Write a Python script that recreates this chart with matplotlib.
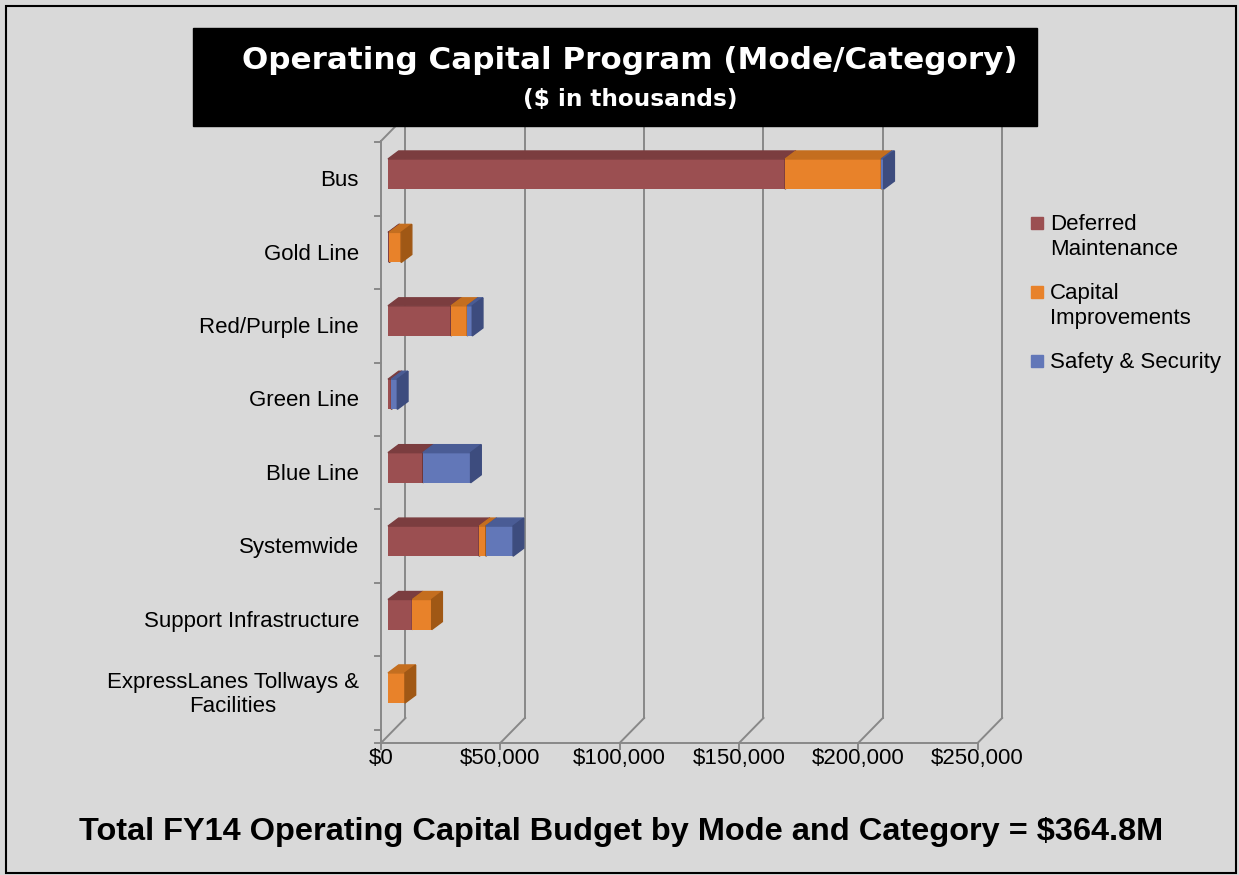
import numpy as np
import matplotlib.pyplot as plt
from matplotlib.patches import Polygon, Rectangle

# data ($ in thousands)
categories = ["Bus", "Gold Line", "Red/Purple Line", "Green Line", "Blue Line",
              "Systemwide", "Support Infrastructure", "ExpressLanes Tollways &\nFacilities"]
deferred = [166400, 500, 26400, 1400, 14600, 38200, 10200, 0]
capital = [40300, 5000, 6800, 0, 0, 2800, 8100, 7100]
safety = [1000, 0, 2100, 2500, 20000, 11400, 0, 0]
series_names = ["Deferred\nMaintenance", "Capital\nImprovements", "Safety & Security"]
xticks = [0, 50000, 100000, 150000, 200000, 250000]

title = "Operating Capital Program (Mode/Category)"
subtitle = "($ in thousands)"
footer = "Total FY14 Operating Capital Budget by Mode and Category = $364.8M"

# colours: front face, top face, side face
front_c = ["#9B4F51", "#E8822A", "#6277B8"]
top_c = ["#7B3D3F", "#C46E1F", "#4A5C95"]
side_c = ["#6A3436", "#A05815", "#3D4C7E"]
bg = "#D9D9D9"
grid_c = "#888888"

W, H = 1239, 875
fig = plt.figure(figsize=(W / 100, H / 100), dpi=100, facecolor=bg)
ax = fig.add_axes([330 / W, 1 - 770 / H, 700 / W, 660 / H])
ax.set_xlim(-24300, 269000)
ax.set_ylim(-1.117, 7.872)
ax.axis("off")

PX = 419.0          # x units per pixel
PY = 1 / 73.43      # y units per pixel

# pseudo 3d frame
fx0 = -7 * PX            # front plane offset
bx0 = 17.5 * PX          # back wall offset
floor_front = -55 * PY
floor_back = -30 * PY
top_front = 547 * PY
top_back = top_front + 25 * PY

for v in xticks:
    ax.plot([v + bx0] * 2, [floor_back, top_back], color=grid_c, lw=1.4, zorder=1)
    ax.plot([v + fx0, v + bx0], [floor_front, floor_back], color=grid_c, lw=1.4, zorder=1)
    ax.plot([v + fx0] * 2, [floor_front, floor_front - 6 * PY], color=grid_c, lw=1.4, zorder=1)
    ax.text(v + fx0, floor_front - 16 * PY, f"${v:,.0f}", ha="center", va="center",
            fontsize=16, family="Liberation Sans")
ax.plot([fx0 - 6 * PX, xticks[-1] + fx0], [floor_front] * 2, color=grid_c, lw=1.4, zorder=1)
ax.plot([fx0] * 2, [floor_front, top_front], color=grid_c, lw=1.4, zorder=1)
ax.plot([fx0, bx0], [top_front, top_back], color=grid_c, lw=1.4, zorder=1)

n = len(categories)
ypos = np.arange(n)[::-1]
for k in range(-1, n):
    yk = k + 0.5 - 5 * PY
    ax.plot([fx0 - 6 * PX, fx0], [yk, yk], color=grid_c, lw=1.4, zorder=1)

# bars
h = 0.41
ddx = 10.7 * PX
ddy = 8 * PY
series = [deferred, capital, safety]
z = 3
for i, y in enumerate(ypos):
    left = 0
    for s, vals in enumerate(series):
        w = vals[i]
        if w <= 0:
            continue
        ax.barh(y, w, left=left, height=h, color=front_c[s], zorder=z)
        top = [(left, y + h / 2), (left + w, y + h / 2),
               (left + w + ddx, y + h / 2 + ddy), (left + ddx, y + h / 2 + ddy)]
        ax.add_patch(Polygon(top, closed=True, color=top_c[s], zorder=z))
        side = [(left + w, y - h / 2), (left + w + ddx, y - h / 2 + ddy),
                (left + w + ddx, y + h / 2 + ddy), (left + w, y + h / 2)]
        ax.add_patch(Polygon(side, closed=True, color=side_c[s], zorder=z))
        left += w
        z += 1
    ax.text(-29 * PX, y - 0.09, categories[i], ha="right", va="center",
            multialignment="center", fontsize=16, family="Liberation Sans",
            linespacing=1.2)

# legend
for s, name in enumerate(series_names):
    ly = 223 + s * 69
    fig.patches.append(Rectangle((1031 / W, 1 - (ly + 6) / H), 12 / W, 12 / H,
                                 transform=fig.transFigure, color=front_c[s]))
    fig.text(1050 / W, 1 - (ly - 9) / H, name, ha="left", va="top", fontsize=16,
             family="Liberation Sans", linespacing=1.25)

# title box
fig.patches.append(Rectangle((193 / W, 1 - 126 / H), 844 / W, 98 / H,
                             transform=fig.transFigure, color="black"))
fig.text(630 / W, 1 - 69 / H, title, ha="center", va="baseline", color="white",
         fontsize=22.3, fontweight="bold", family="DejaVu Sans")
fig.text(630 / W, 1 - 106 / H, subtitle, ha="center", va="baseline", color="white",
         fontsize=16.7, fontweight="bold", family="DejaVu Sans")

fig.text(621 / W, 1 - 840 / H, footer, ha="center", va="baseline",
         fontsize=23.4, fontweight="bold", family="Liberation Sans")

# border
fig.patches.append(Rectangle((6 / W, 2 / H), 1230 / W, 867 / H, transform=fig.transFigure,
                             fill=False, edgecolor="black", lw=1.5))

fig.savefig("out.png", dpi=100, facecolor=bg)
